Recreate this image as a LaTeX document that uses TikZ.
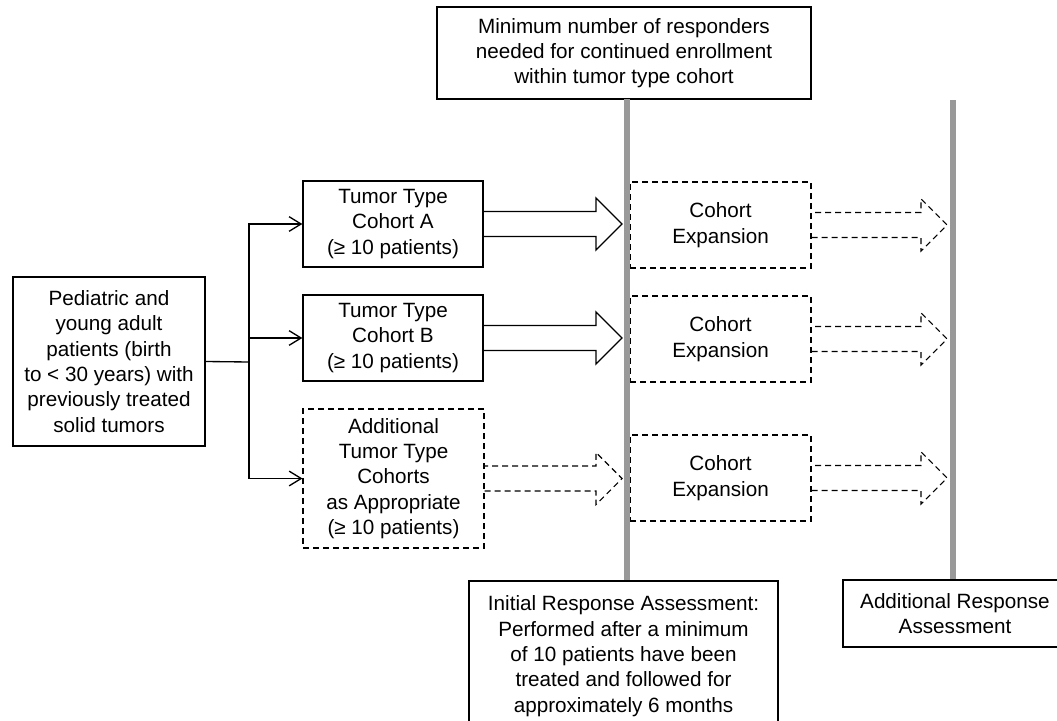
\documentclass[tikz,border=0pt]{standalone}
\usepackage{fontspec}
\setmainfont{Liberation Sans}
\usetikzlibrary{calc}
\usetikzlibrary{arrows.meta}
\definecolor{barGray}{RGB}{153,153,153}
\tikzset{%
  solidbox/.style = {rectangle,draw,solid,line width=1pt,align=center,
        inner sep=0pt},
  dashbox/.style = {rectangle,draw,dash pattern=on 4.5pt off 3pt,
        line width=0.8pt,align=center,inner sep=0pt},
  cohort/.style = {minimum width=135pt,minimum height=64.5pt},
  expansion/.style = {dashbox,minimum width=135.75pt,minimum height=64.5pt},
  branch/.style = {-{Straight Barb[length=9pt,width=11pt]},line width=1pt},
  timebar/.style = {line width=4.5pt,draw=barGray},
  fatarrow/.style = {line width=1pt,solid},
  dasharrow/.style = {line width=0.8pt,dash pattern=on 4.5pt off 3pt}
}
% hollow block arrow: style, start, tip (same height)
\newcommand{\blockarrow}[3]{%
  \draw[#1] ($(#2)+(0,12.5)$) -- ($(#3)+(-26,12.5)$) -- ($(#3)+(-26,26)$)
    -- (#3) -- ($(#3)+(-26,-26)$) -- ($(#3)+(-26,-12.5)$) -- ($(#2)+(0,-12.5)$);}

\begin{document}
\begin{tikzpicture}[x=0.75pt,y=-0.75pt,font=\fontsize{15.5}{19}\selectfont]
    \clip (0,0) rectangle (1057,721);

    \node[solidbox,minimum width=280.5pt,minimum height=69pt] (goal) at (624,53)
        {Minimum number of responders\\needed for continued enrollment\\within tumor type cohort};
    \node[solidbox,minimum width=144pt,minimum height=126.75pt] (pop) at (109,361.5)
        {Pediatric and\\young adult\\patients (birth\\to < 30 years) with\\previously treated\\solid tumors};

    \node[solidbox,cohort] (cA) at (393,224) {Tumor Type\\Cohort A\\(≥ 10 patients)};
    \node[solidbox,cohort] (cB) at (393,338) {Tumor Type\\Cohort B\\(≥ 10 patients)};
    \node[dashbox,minimum width=135.75pt,minimum height=104.25pt] (cX) at (393.5,478.5)
        {Additional\\Tumor Type\\Cohorts\\as Appropriate\\(≥ 10 patients)};

    \node[expansion] (expA) at (720.5,225) {Cohort\\Expansion};
    \node[expansion] (expB) at (720.5,339) {Cohort\\Expansion};
    \node[expansion] (expX) at (720.5,478) {Cohort\\Expansion};

    \node[solidbox,minimum width=231.75pt,minimum height=112.5pt] (initial) at (623.5,656)
        {Initial Response Assessment:\\Performed after a minimum\\of 10 patients have been\\treated and followed for\\approximately 6 months};
    \node[solidbox,minimum width=168pt,minimum height=50.25pt] (later) at (955,613.5)
        {Additional Response\\Assessment};

    % time bars
    \coordinate (bar1top) at (627,99);
    \coordinate (bar2top) at (953,100);
    \draw[timebar] (bar1top) -- (initial.north -| bar1top);
    \draw[timebar] (bar2top) -- (later.north -| bar2top);

    % enrollment branches
    \coordinate (split) at (249,362);
    \draw[line width=1pt] (pop.east) -- (split);
    \draw[branch] (split) |- (cA.west);
    \draw[branch] (split) |- (cB.west);
    \draw[branch] (split) |- (cX.west);

    % block arrows
    \coordinate (tipA) at ($(cA.east -| bar1top)+(-5,0)$);
    \coordinate (tipB) at ($(cB.east -| bar1top)+(-5,0)$);
    \coordinate (tipX) at ($(cX.east -| bar1top)+(-5,0)$);
    \blockarrow{fatarrow}{cA.east}{tipA}
    \blockarrow{fatarrow}{cB.east}{tipB}
    \blockarrow{dasharrow}{cX.east}{tipX}

    \coordinate (endA) at ($(expA.east -| bar2top)+(-6,0)$);
    \coordinate (endB) at ($(expB.east -| bar2top)+(-6,0)$);
    \coordinate (endX) at ($(expX.east -| bar2top)+(-6,0)$);
    \blockarrow{dasharrow}{expA.east}{endA}
    \blockarrow{dasharrow}{expB.east}{endB}
    \blockarrow{dasharrow}{expX.east}{endX}
\end{tikzpicture}
\end{document}
